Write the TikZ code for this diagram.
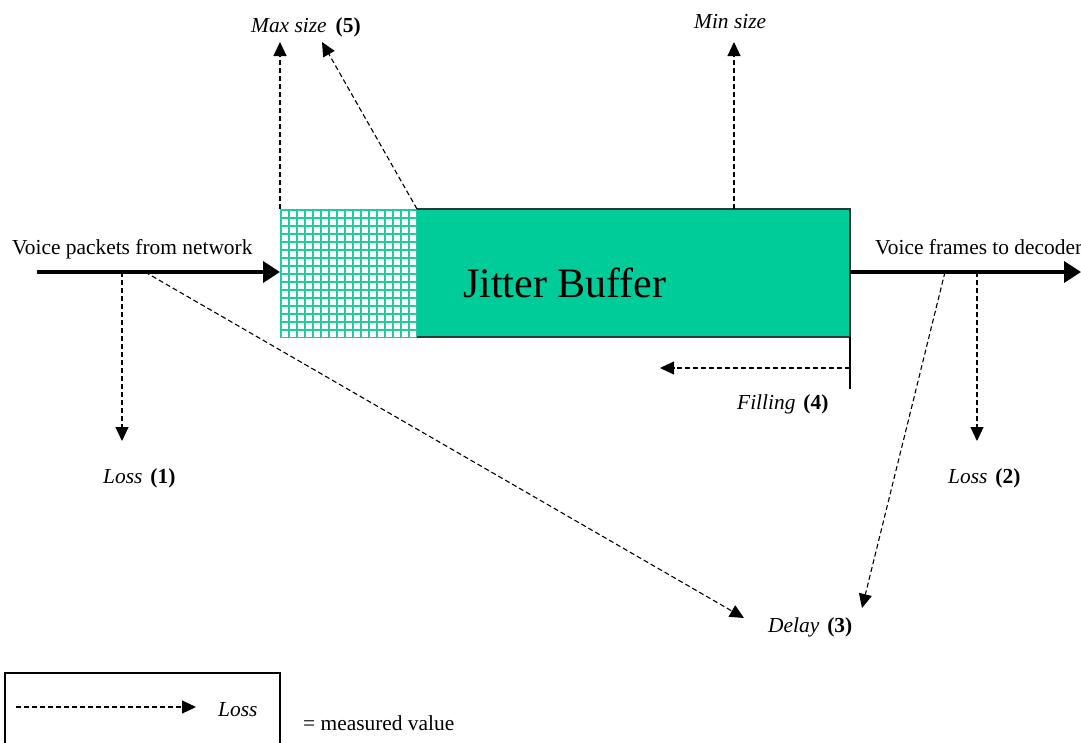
\documentclass[tikz,border=0pt]{standalone}
\usepackage{fontspec}
\setmainfont{Liberation Serif}
\usetikzlibrary{arrows.meta}
\definecolor{buffteal}{HTML}{00CC99}
\definecolor{gridteal}{HTML}{1FCBA0}
\definecolor{edgegray}{HTML}{2A3A36}
\begin{document}
\begin{tikzpicture}[x=1pt,y=-1pt,
  lbl/.style={inner sep=0pt, anchor=base west, font=\fontsize{21.4}{25}\selectfont},
  bigl/.style={inner sep=0pt, anchor=base west, font=\fontsize{42}{48}\selectfont},
  flow/.style={line width=3.6pt, -{Triangle[length=17pt,width=21pt]}},
  meas/.style={line width=1.1pt, dash pattern=on 5pt off 3pt, -{Triangle[length=14pt,width=13pt]}},
]
\useasboundingbox (0,0) rectangle (1081,742);

% key points of the buffer
\coordinate (inStart) at (37,272);
\coordinate (bufIn) at (280,272);
\coordinate (bufOut) at (850,272);
\coordinate (outEnd) at (1081,272);
\coordinate (hatchTL) at (280,209);
\coordinate (bufTL) at (417,209);
\coordinate (minTop) at (734,209);
\coordinate (bufBR) at (850,337);

% reserve area with grid hatching
\begin{scope}
  \clip (280,209) rectangle (417,337);
  \fill[white] (280,209) rectangle (417,337);
  \foreach \i in {0,...,17} \draw[gridteal, line width=2.9pt] (281+8*\i,205) -- (281+8*\i,340);
  \foreach \j in {0,...,16} \draw[gridteal, line width=2.9pt] (276,210+8*\j) -- (420,210+8*\j);
\end{scope}

% filled buffer
\fill[buffteal] (417,209) rectangle (850,337);
\draw[edgegray, line width=1.6pt] (417,209) -- (850,209) -- (850,337) -- (417,337);
\node[bigl] (jb) at (463,297) {Jitter Buffer};

% packet flow
\draw[flow] (inStart) -- (bufIn);
\draw[flow] (bufOut) -- (outEnd);
\node[lbl] (inTxt) at (12,254) {Voice packets from network};
\node[lbl] (outTxt) at (875,254) {Voice frames to decoder};

% measured values
\coordinate (maxTip) at (280,42);
\coordinate (maxTip2) at (322,42);
\coordinate (minTip) at (734,42);
\draw[meas] (hatchTL) -- (maxTip);
\draw[meas] (bufTL) -- (maxTip2);
\draw[meas] (minTop) -- (minTip);
\node[lbl] (maxTxt) at (251,32) {\textit{Max size}\hspace{9pt}\textbf{(5)}};
\node[lbl] (minTxt) at (694,28) {\textit{Min size}};

\coordinate (loss1a) at (122,272);
\coordinate (loss1b) at (122,441);
\draw[meas] (loss1a) -- (loss1b);
\node[lbl] (loss1) at (103,483) {\textit{Loss}\hspace{8pt}\textbf{(1)}};

\coordinate (loss2a) at (977,272);
\coordinate (loss2b) at (977,441);
\draw[meas] (loss2a) -- (loss2b);
\node[lbl] (loss2) at (948,483) {\textit{Loss}\hspace{8pt}\textbf{(2)}};

\coordinate (delA) at (145,272);
\coordinate (delAtip) at (744,618);
\coordinate (delB) at (945,272);
\coordinate (delBtip) at (862,608);
\draw[meas] (delA) -- (delAtip);
\draw[meas] (delB) -- (delBtip);
\node[lbl] (delay) at (768,632) {\textit{Delay}\hspace{8pt}\textbf{(3)}};

\coordinate (fillBot) at (850,389);
\coordinate (fillA) at (850,368);
\coordinate (fillTip) at (660,368);
\draw[line width=1.1pt] (bufBR) -- (fillBot);
\draw[meas] (fillA) -- (fillTip);
\node[lbl] (filling) at (737,409) {\textit{Filling}\hspace{8pt}\textbf{(4)}};

% legend
\draw[line width=1.1pt] (5,760) -- (5,673) -- (280,673) -- (280,760);
\coordinate (legA) at (16,707);
\coordinate (legB) at (196,707);
\draw[meas] (legA) -- (legB);
\node[lbl] (legLoss) at (218,716) {\textit{Loss}};
\node[lbl] (legTxt) at (303,730) {= measured value};
\end{tikzpicture}
\end{document}
